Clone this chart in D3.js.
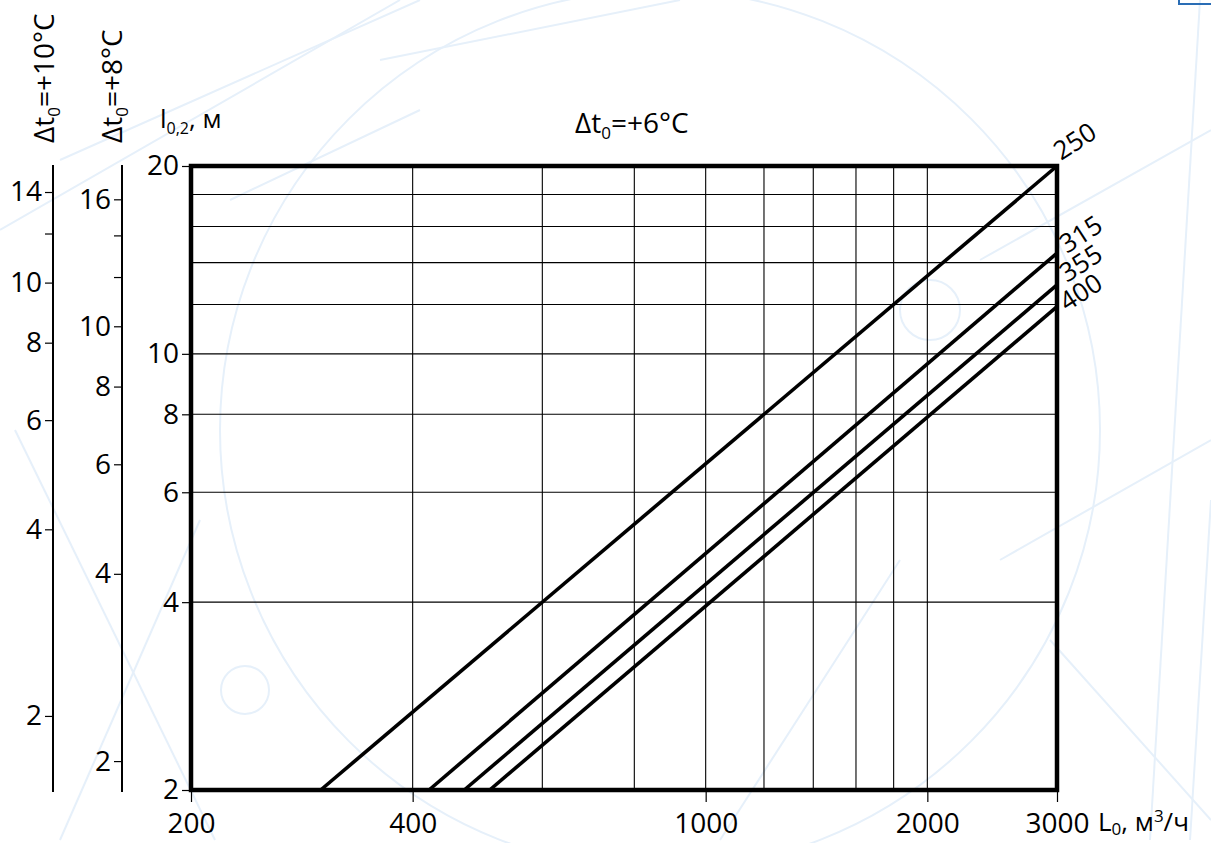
<!DOCTYPE html>
<html><head><meta charset="utf-8">
<script src="https://cdn.jsdelivr.net/npm/d3@7"></script>
<style>
html,body{margin:0;padding:0;background:#fff;}
svg{display:block;font-family:"Open Sans","Noto Sans",sans-serif;}
</style></head>
<body>
<script>
// ---- data ----
const xTickLabels = [200, 400, 1000, 2000, 3000];
const xGridValues = [400, 600, 800, 1000, 1200, 1400, 1600, 1800, 2000];
const yTickLabels = [2, 4, 6, 8, 10, 20];
const yGridValues = [4, 6, 8, 10, 12, 14, 16, 18];
const axis8Labels = [2, 4, 6, 8, 10, 16];
const axis8Minor = [12, 14];
const axis10Labels = [2, 4, 6, 8, 10, 14];
const axis10Minor = [12];
const seriesNames = ["250", "315", "355", "400"];
const seriesL = [[300, 3000], [421, 3000], [470, 3000], [509, 3000]];
const seriesLen = [[2, 20], [2, 14.5], [2, 12.9], [2, 11.9]];

const W = 1211, H = 843;
const svg = d3.select("body").append("svg").attr("width", W).attr("height", H);

// faint watermark decoration
const wm = svg.append("g").attr("fill", "none").attr("stroke", "#e6f0fa").attr("stroke-width", 2);
wm.append("circle").attr("cx", 245).attr("cy", 690).attr("r", 24);
wm.append("circle").attr("cx", 930).attr("cy", 310).attr("r", 30);
wm.append("circle").attr("cx", 660).attr("cy", 430).attr("r", 440);
[[0,230,400,0],[15,430,215,840],[60,160,420,0],[230,200,420,110],[980,260,1211,130],[1000,560,1211,440],[1150,840,1200,0],[1190,840,1211,500],[60,840,200,520],[720,840,900,560],[380,60,680,0],[1050,640,1211,820]].forEach(d=>{
  wm.append("line").attr("x1",d[0]).attr("y1",d[1]).attr("x2",d[2]).attr("y2",d[3]);
});
svg.append("rect").attr("x",1179).attr("y",-10).attr("width",40).attr("height",14)
  .attr("fill","none").attr("stroke","#2a6db5").attr("stroke-width",2);

// scales
const x = d3.scaleLog().domain([200, 3000]).range([191, 1057]);
const y = d3.scaleLog().domain([2, 20]).range([790, 166]);
const y8 = d3.scaleLog().domain([1.797, 18.1]).range([790, 166]);
const y10 = d3.scaleLog().domain([1.519, 15.42]).range([790, 166]);

const FS = 28;

// grid
const g = svg.append("g");
g.selectAll(".vg").data(xGridValues).join("line")
  .attr("x1", d => x(d)).attr("x2", d => x(d)).attr("y1", 166).attr("y2", 790)
  .attr("stroke", "#000").attr("stroke-width", 1.1);
g.selectAll(".hg").data(yGridValues).join("line")
  .attr("y1", d => y(d)).attr("y2", d => y(d)).attr("x1", 191).attr("x2", 1057)
  .attr("stroke", "#000").attr("stroke-width", 1.1);

// main axes (ticks + labels)
const xAxis = d3.axisBottom(x).tickValues(xTickLabels).tickFormat(d3.format("d")).tickSize(12).tickPadding(11);
const gx = svg.append("g").attr("transform", "translate(0,790)").call(xAxis);
gx.select(".domain").remove();
gx.selectAll("line").attr("stroke", "#000").attr("stroke-width", 1.2);
gx.selectAll("text").attr("font-size", FS).attr("fill", "#000").attr("font-family", "Open Sans");

const yAxis = d3.axisLeft(y).tickValues(yTickLabels).tickFormat(d3.format("d")).tickSize(9).tickPadding(3);
const gy = svg.append("g").attr("transform", "translate(191,0)").call(yAxis);
gy.select(".domain").remove();
gy.selectAll("line").attr("stroke", "#000").attr("stroke-width", 1.2);
gy.selectAll("text").attr("font-size", FS).attr("fill", "#000").attr("font-family", "Open Sans");

// curves
const line = d3.line().x(d => x(d[0])).y(d => y(d[1]));
seriesNames.forEach((name, i) => {
  const pts = seriesL[i].map((L, j) => [L, seriesLen[i][j]]);
  svg.append("path").datum(pts).attr("d", line)
    .attr("fill", "none").attr("stroke", "#000").attr("stroke-width", 3.6);
});

// frame
svg.append("rect").attr("x", 191).attr("y", 166).attr("width", 1057 - 191).attr("height", 790 - 166)
  .attr("fill", "none").attr("stroke", "#000").attr("stroke-width", 4.5);

// secondary left axes
function sideAxis(scale, labels, minor, xpos) {
  const ga = svg.append("g").attr("transform", `translate(${xpos},0)`)
    .call(d3.axisLeft(scale).tickValues(labels.concat(minor)).tickFormat(d => labels.includes(d) ? d3.format("d")(d) : "").tickSize(8).tickPadding(3));
  ga.select(".domain").remove();
  ga.append("line").attr("x1", 0).attr("x2", 0).attr("y1", 165).attr("y2", 792).attr("stroke", "#000").attr("stroke-width", 2);
  ga.selectAll(".tick line").attr("stroke", "#000").attr("stroke-width", 1.2);
  ga.selectAll("text").attr("font-size", FS).attr("fill", "#000").attr("font-family", "Open Sans");
}
sideAxis(y8, axis8Labels, axis8Minor, 122);
sideAxis(y10, axis10Labels, axis10Minor, 53);

// labels
function dtLabel(sel, value) {
  sel.append("tspan").text("\u0394t");
  sel.append("tspan").text("0").attr("font-size", 17).attr("dy", 6);
  sel.append("tspan").text("=+" + value + "\u00B0C").attr("dy", -6);
}
dtLabel(svg.append("text").attr("transform", "translate(54,143) rotate(-90)")
  .attr("font-size", 28).attr("fill", "#000"), 10);
dtLabel(svg.append("text").attr("transform", "translate(122,143) rotate(-90)")
  .attr("font-size", 28).attr("fill", "#000"), 8);
dtLabel(svg.append("text").attr("x", 575).attr("y", 133)
  .attr("font-size", 28).attr("fill", "#000"), 6);

const ylab = svg.append("text").attr("x", 160).attr("y", 128).attr("font-size", 26).attr("fill", "#000");
ylab.append("tspan").text("l");
ylab.append("tspan").text("0,2").attr("font-size", 16).attr("dy", 6);
ylab.append("tspan").text(", м").attr("dy", -6);

const xlab = svg.append("text").attr("x", 1098).attr("y", 831).attr("font-size", 26).attr("fill", "#000");
xlab.append("tspan").text("L");
xlab.append("tspan").text("0").attr("font-size", 17).attr("dy", 4);
xlab.append("tspan").text(", м").attr("dy", -4);
xlab.append("tspan").text("3").attr("font-size", 17).attr("dy", -9);
xlab.append("tspan").text("/ч").attr("dy", 9);

const labelPos = [[1061, 161], [1067, 254], [1067, 283], [1067, 312]];
seriesNames.forEach((name, i) => {
  svg.append("text").attr("transform", `translate(${labelPos[i][0]},${labelPos[i][1]}) rotate(-33)`)
    .attr("font-size", 26).attr("fill", "#000").text(name);
});
</script>
</body></html>
